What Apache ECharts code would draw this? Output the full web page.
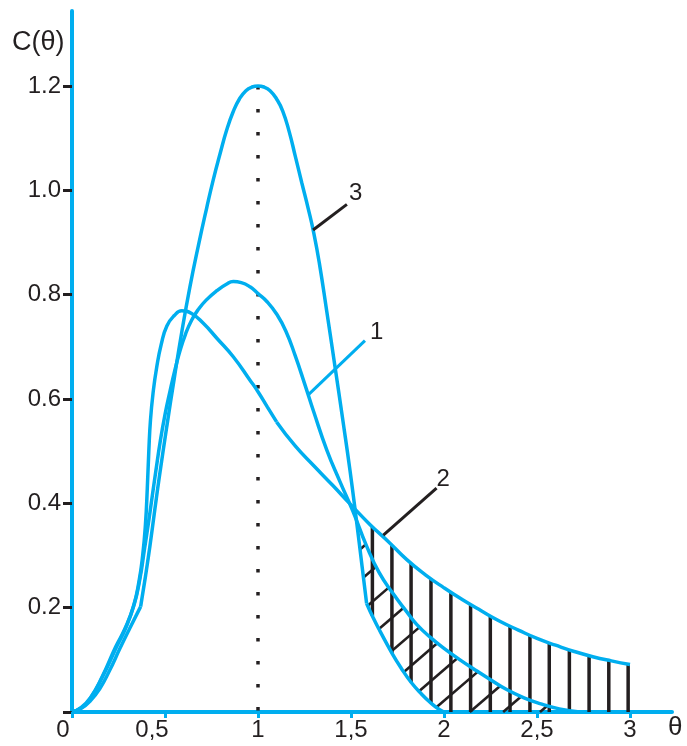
<!DOCTYPE html>
<html><head><meta charset="utf-8">
<script src="https://cdn.jsdelivr.net/npm/echarts@6/dist/echarts.min.js"></script>
<style>html,body{margin:0;padding:0;background:#fff}#c{width:687px;height:746px}</style>
</head><body><div id="c"></div>
<script>
// ---- data ----
const curve1 = [[0,0],[0.05,0.009],[0.1,0.028],[0.165,0.068],[0.24,0.125],[0.29,0.162],[0.335,0.207],[0.365,0.255],[0.39,0.313],[0.41,0.36],[0.43,0.41],[0.45,0.46],[0.475,0.52],[0.5,0.57],[0.527,0.615],[0.555,0.658],[0.581,0.693],[0.61,0.724],[0.643,0.751],[0.68,0.772],[0.72,0.789],[0.78,0.808],[0.83,0.82],[0.867,0.825],[0.91,0.823],[0.957,0.815],[1.0,0.802],[1.05,0.786],[1.1,0.763],[1.15,0.73],[1.2,0.683],[1.25,0.63],[1.3,0.575],[1.37,0.502],[1.44,0.442],[1.51,0.385],[1.584,0.318],[1.65,0.268],[1.728,0.226],[1.8,0.192],[1.853,0.168],[1.93,0.142],[2.0,0.122],[2.086,0.1],[2.158,0.083],[2.25,0.062],[2.337,0.043],[2.43,0.027],[2.516,0.016],[2.62,0.006],[2.73,0]];
const curve2 = [[0,0],[0.05,0.008],[0.1,0.027],[0.16,0.066],[0.235,0.125],[0.285,0.16],[0.33,0.202],[0.36,0.25],[0.38,0.3],[0.395,0.36],[0.405,0.43],[0.413,0.5],[0.422,0.56],[0.437,0.615],[0.455,0.66],[0.48,0.705],[0.51,0.74],[0.55,0.76],[0.59,0.769],[0.643,0.764],[0.706,0.745],[0.78,0.716],[0.867,0.681],[0.957,0.636],[1.0,0.614],[1.05,0.585],[1.10,0.556],[1.2,0.51],[1.3,0.472],[1.4,0.435],[1.5,0.397],[1.6,0.36],[1.7,0.327],[1.8,0.292],[1.9,0.263],[2.0,0.238],[2.1,0.215],[2.2,0.194],[2.3,0.174],[2.4,0.157],[2.5,0.141],[2.6,0.128],[2.7,0.116],[2.8,0.106],[2.9,0.098],[3.0,0.091]];
const curve3 = [[0,0],[0.05,0.007],[0.1,0.022],[0.15,0.045],[0.2,0.078],[0.258,0.122],[0.31,0.16],[0.369,0.202],[0.395,0.26],[0.419,0.318],[0.446,0.39],[0.47,0.452],[0.51,0.548],[0.55,0.64],[0.59,0.728],[0.634,0.815],[0.68,0.895],[0.724,0.966],[0.76,1.021],[0.796,1.07],[0.832,1.116],[0.867,1.151],[0.9,1.175],[0.935,1.191],[0.968,1.198],[1.0,1.2],[1.032,1.198],[1.065,1.191],[1.1,1.175],[1.133,1.152],[1.168,1.112],[1.2,1.066],[1.235,1.015],[1.27,0.965],[1.3,0.918],[1.33,0.86],[1.37,0.767],[1.414,0.662],[1.455,0.562],[1.495,0.462],[1.53,0.365],[1.56,0.278],[1.584,0.208],[1.62,0.18],[1.656,0.155],[1.72,0.113],[1.77,0.084],[1.823,0.057],[1.88,0.034],[1.93,0.017],[1.97,0.006],[2.0,0]];
const curve2Kinks = [1.10];
const curve3Kinks = [0.369, 1.584];
const xTickValues = [0, 0.5, 1, 1.5, 2, 2.5, 3];
const xTickLabels = ['0', '0,5', '1', '1,5', '2', '2,5', '3'];
const yTickValues = [0, 0.2, 0.4, 0.6, 0.8, 1.0, 1.2];
const yLabelValues = [0.2, 0.4, 0.6, 0.8, 1.0, 1.2];
const yTickLabels = ['0.2', '0.4', '0.6', '0.8', '1.0', '1.2'];
const meanLine = [[1, 1.2], [1, 0]];
const hatchVerticalTheta = [1.615, 1.72, 1.823, 1.93, 2.037, 2.143, 2.249, 2.355, 2.462, 2.566, 2.674, 2.78, 2.886, 2.99];
const hatchDiagonalTheta0 = [0.532, 0.726, 0.925, 1.131, 1.338, 1.534, 1.736, 1.930, 2.139, 2.318, 2.516];
const hatchDiagonalSlope = 0.3066;
const curveNames = ['1', '2', '3'];
const leader1 = [[1.270, 0.608], [1.575, 0.712]];
const leader2 = [[1.674, 0.339], [1.96, 0.429]];
const leader3 = [[1.296, 0.924], [1.478, 0.973]];

// ---- styles ----
const BLUE = '#00aeef';
const INK = '#231f20';
const FONT = 'Liberation Sans, Arial, sans-serif';

function interp(curve, t) {
  if (t <= curve[0][0]) return curve[0][1];
  for (let i = 1; i < curve.length; i++) {
    if (t <= curve[i][0]) {
      const [x0, y0] = curve[i - 1], [x1, y1] = curve[i];
      return y0 + (y1 - y0) * (t - x0) / (x1 - x0);
    }
  }
  return curve[curve.length - 1][1];
}
function root(fn, a, b) {
  let fa = fn(a);
  for (let k = 0; k < 60; k++) {
    const m = (a + b) / 2, fm = fn(m);
    if ((fm < 0) === (fa < 0)) { a = m; fa = fm; } else { b = m; }
  }
  return (a + b) / 2;
}
function splitAt(curve, kinks) {
  const segs = []; let cur = [];
  curve.forEach(p => {
    cur.push(p);
    if (kinks.includes(p[0])) { if (cur.length > 1) segs.push(cur); cur = [p]; }
  });
  if (cur.length > 1) segs.push(cur);
  return segs;
}

const lower = t => Math.max(0, interp(curve3, t));
const verticalData = hatchVerticalTheta.map(t => [t, lower(t), t, interp(curve2, t)]);
const diagonalData = [];
hatchDiagonalTheta0.forEach(t0 => {
  const line = t => hatchDiagonalSlope * (t - t0);
  const ta = root(t => line(t) - lower(t), 1.5, 2.95);
  const tb = root(t => line(t) - Math.max(0, interp(curve1, t)), 1.5, 2.95);
  if (tb > ta) diagonalData.push([ta, line(ta), tb, line(tb)]);
});

function segRender(width) {
  return function (params, api) {
    const p1 = api.coord([api.value(0), api.value(1)]);
    const p2 = api.coord([api.value(2), api.value(3)]);
    return { type: 'line', shape: { x1: p1[0], y1: p1[1], x2: p2[0], y2: p2[1] },
      style: { stroke: INK, lineWidth: width, lineCap: 'butt' } };
  };
}

const series = [];
series.push({ type: 'custom', z: 1, renderItem: segRender(3.5), data: verticalData, encode: { x: [0, 2], y: [1, 3] }, clip: false, silent: true });
series.push({ type: 'custom', z: 1, renderItem: segRender(2.6), data: diagonalData, encode: { x: [0, 2], y: [1, 3] }, clip: false, silent: true });
series.push({ type: 'line', z: 2, data: meanLine, symbol: 'none', lineStyle: { color: INK, width: 3.5, type: [3.5, 19.5], cap: 'butt' }, silent: true });

[[curve1, []], [curve2, curve2Kinks], [curve3, curve3Kinks]].forEach(([c, k]) => {
  splitAt(c, k).forEach(seg => {
    series.push({ type: 'line', z: 3, data: seg, symbol: 'none', showSymbol: false, smooth: 0.5,
      lineStyle: { color: BLUE, width: 3.5 }, silent: true });
  });
});

function leader(points, color) {
  return { type: 'line', z: 4, data: points, symbol: 'none', showSymbol: false, lineStyle: { color, width: 3, cap: 'butt' }, silent: true };
}
series.push(leader(leader1, BLUE));
series.push(leader(leader2, INK));
series.push(leader(leader3, INK));

function nameLabel(point, name, pos) {
  return { value: point, label: { show: true, formatter: name, fontSize: 24, color: INK, fontFamily: FONT,
    position: pos, align: 'left', verticalAlign: 'middle', opacity: 1 } };
}
series.push({
  type: 'scatter', z: 5, symbol: 'circle', symbolSize: 2, itemStyle: { color: 'rgba(0,0,0,0)' }, silent: true,
  labelLayout: { hideOverlap: false },
  data: [
    nameLabel(leader1[1], curveNames[0], [6, -7]),
    nameLabel(leader2[1], curveNames[1], [1, -8]),
    nameLabel(leader3[1], curveNames[2], [3, -10])
  ]
});

const chart = echarts.init(document.getElementById('c'), null, { renderer: 'canvas' });
chart.setOption({
  animation: false,
  backgroundColor: '#fff',
  grid: { left: 72, right: 15, top: 11, bottom: 34, containLabel: false, outerBoundsMode: 'none' },
  xAxis: {
    type: 'value', min: 0, max: 3.2258,
    axisLine: { show: true, onZero: false, lineStyle: { color: BLUE, width: 4 } },
    axisTick: { show: true, customValues: xTickValues, length: 6, lineStyle: { color: BLUE, width: 3 } },
    axisLabel: {
      customValues: xTickValues, margin: 6, fontSize: 24, color: INK, fontFamily: FONT,
      formatter: v => {
        const i = xTickValues.findIndex(x => Math.abs(x - v) < 1e-6);
        if (i < 0) return '';
        if (i === 0) return '{a|' + xTickLabels[i] + '}';
        if (i === 1) return '{b|' + xTickLabels[i] + '}';
        return xTickLabels[i];
      },
      rich: {
        a: { fontSize: 24, color: INK, fontFamily: FONT, padding: [0, 18, 0, 0] },
        b: { fontSize: 24, color: INK, fontFamily: FONT, padding: [0, 26, 0, 0] }
      }
    },
    splitLine: { show: false }
  },
  yAxis: {
    type: 'value', min: 0, max: 1.3437,
    axisLine: { show: true, onZero: false, lineStyle: { color: BLUE, width: 4 } },
    axisTick: { show: true, customValues: yTickValues, length: 9, lineStyle: { color: INK, width: 3 } },
    axisLabel: {
      customValues: yLabelValues, margin: 11, fontSize: 24, color: INK, fontFamily: FONT,
      formatter: v => {
        const i = yLabelValues.findIndex(x => Math.abs(x - v) < 1e-6);
        return i < 0 ? '' : yTickLabels[i];
      }
    },
    splitLine: { show: false }
  },
  graphic: [
    { type: 'text', left: 12, top: 29, style: { text: 'C(θ)', fontSize: 27, fill: INK, font: '27px ' + FONT } },
    { type: 'text', left: 668, top: 715, style: { text: 'θ', fontSize: 26, fill: INK, font: '26px ' + FONT } }
  ],
  series
});
</script>
</body></html>
